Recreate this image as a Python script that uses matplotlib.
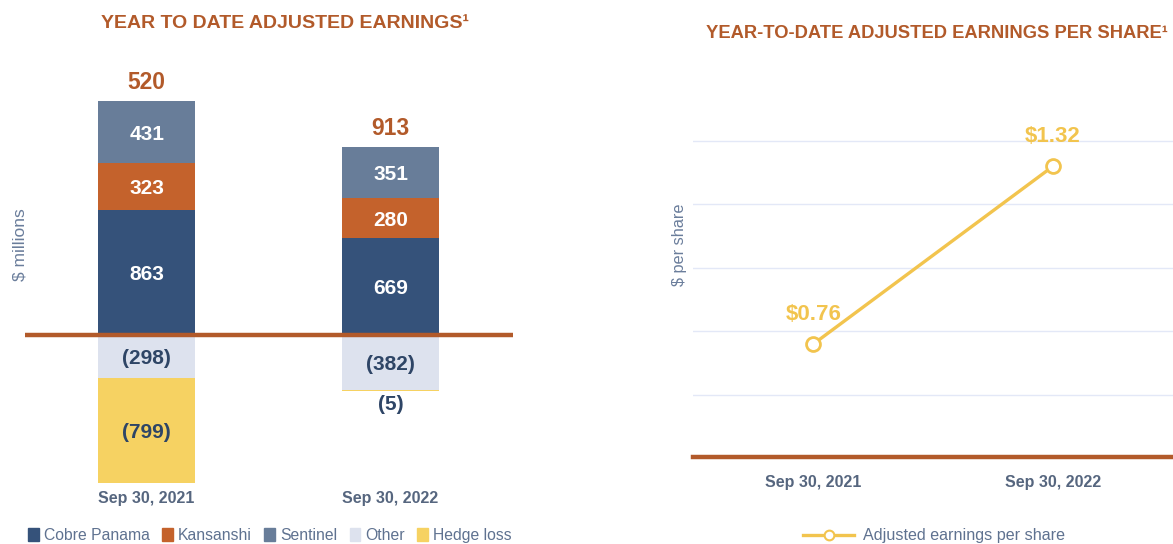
import matplotlib
matplotlib.use('Agg')
import numpy as np
import matplotlib.pyplot as plt
import matplotlib.patches as mpatches
from matplotlib.lines import Line2D

plt.rcParams['font.family'] = ['Liberation Sans', 'DejaVu Sans']

Years = ['Sep 30, 2021', 'Sep 30, 2022']
Segments = ['Cobre Panama', 'Kansanshi', 'Sentinel', 'Other', 'Hedge loss']
Colors = ['#35527a', '#c4622c', '#687d99', '#dde2ee', '#f6d262']
Values = {'Cobre Panama': [863, 669],
          'Kansanshi': [323, 280],
          'Sentinel': [431, 351],
          'Other': [-298, -382],
          'Hedge loss': [-799, -5]}
Totals = [520, 913]
EPS = [0.76, 1.32]

BROWN = '#b25a2a'
SLATE = '#56667f'
Y_BOTTOM = -1022

plt.figure(figsize=(11.73, 5.44), dpi=100)

# left: stacked earnings by operation
plt.axes([0.021, 0.112, 0.416, 0.759])
x = np.arange(len(Years))
pos = np.zeros(len(Years))
neg = np.zeros(len(Years))
for name, color in zip(Segments, Colors):
    vals = np.array(Values[name], dtype=float)
    base = np.where(vals >= 0, pos, neg)
    plt.bar(x, vals, 0.4, bottom=base, color=color, zorder=2)
    for i in range(len(x)):
        v = vals[i]
        lo = max(min(base[i], base[i] + v), Y_BOTTOM)
        hi = max(base[i], base[i] + v)
        txt = str(int(v)) if v >= 0 else '(%d)' % -v
        tc = 'white' if v >= 0 else '#2e4566'
        if abs(v) < 40:
            plt.text(x[i], lo - 25, txt, ha='center', va='top', color=tc,
                     fontsize=15, fontweight='bold')
        else:
            plt.text(x[i], (lo + hi) / 2 - 15, txt, ha='center', va='center', color=tc,
                     fontsize=15, fontweight='bold')
    pos = pos + np.where(vals >= 0, vals, 0)
    neg = neg + np.where(vals < 0, vals, 0)

for i in range(len(x)):
    plt.text(x[i], pos[i] + 45, str(Totals[i]), ha='center', va='bottom',
             color=BROWN, fontsize=16.5, fontweight='bold')

plt.axhline(0, color=BROWN, linewidth=3.2, zorder=3)
plt.xlim(-0.5, 1.5)
plt.ylim(Y_BOTTOM, 1830)
plt.xticks(x, Years, color=SLATE, fontsize=11.5, fontweight='bold')
plt.tick_params(axis='x', length=0, pad=6)
plt.yticks([])
for s in plt.gca().spines.values():
    s.set_visible(False)

plt.figtext(0.243, 0.956, 'YEAR TO DATE ADJUSTED EARNINGS\u00b9', ha='center', va='center',
            color=BROWN, fontsize=14, fontweight='bold')
plt.figtext(0.017, 0.55, '$ millions', rotation=90, ha='center', va='center',
            color='#6a7d9b', fontsize=12.5)

handles = [mpatches.Patch(color=c, label=n) for n, c in zip(Segments, Colors)]
leg = plt.figlegend(handles=handles, loc='center', bbox_to_anchor=(0.230, 0.015), ncol=5,
                    frameon=False, fontsize=11.3, handlelength=0.7, handleheight=0.9,
                    handletextpad=0.3, columnspacing=0.8)
for t in leg.get_texts():
    t.set_color('#5f7290')

# right: adjusted earnings per share
plt.axes([0.591, 0.160, 0.409, 0.698])
plt.plot(x, EPS, color='#f2c44e', linewidth=2.4, marker='o', markersize=10,
         markerfacecolor='white', markeredgewidth=2, zorder=3)
for i in range(len(x)):
    plt.text(x[i], EPS[i] + 0.06, '$%.2f' % EPS[i], ha='center', va='bottom',
             color='#f2c44e', fontsize=16, fontweight='bold')
plt.xlim(-0.5, 1.5)
plt.ylim(0.405, 1.6)
plt.yticks([0.6, 0.8, 1.0, 1.2, 1.4], [])
plt.grid(axis='y', color='#e3e8f7', linewidth=1)
plt.tick_params(axis='y', length=0)
plt.xticks(x, Years, color=SLATE, fontsize=11.5, fontweight='bold')
plt.tick_params(axis='x', length=0, pad=13)
ax = plt.gca()
for s in ['top', 'right', 'left']:
    ax.spines[s].set_visible(False)
ax.spines['bottom'].set_color(BROWN)
ax.spines['bottom'].set_linewidth(3.2)

plt.figtext(0.799, 0.939, 'YEAR-TO-DATE ADJUSTED EARNINGS PER SHARE\u00b9', ha='center',
            va='center', color=BROWN, fontsize=13.2, fontweight='bold')
plt.figtext(0.579, 0.55, '$ per share', rotation=90, ha='center', va='center',
            color='#6a7d9b', fontsize=11.7)

eps_handle = Line2D([], [], color='#f2c44e', linewidth=2.4, marker='o', markersize=7,
                    markerfacecolor='white', markeredgewidth=1.5,
                    label='Adjusted earnings per share')
leg2 = plt.figlegend(handles=[eps_handle], loc='center', bbox_to_anchor=(0.796, 0.015),
                     frameon=False, fontsize=11.6, handlelength=3.2, handletextpad=0.5)
for t in leg2.get_texts():
    t.set_color('#5f7290')

plt.savefig('out.png')
plt.close()
